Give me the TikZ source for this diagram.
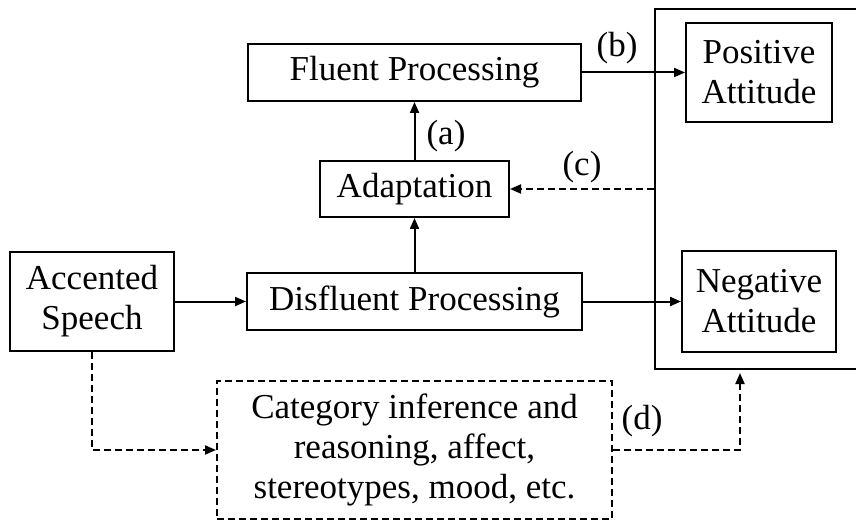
\documentclass[tikz,border=0pt]{standalone}
\usepackage{fontspec}
\setmainfont{Liberation Serif}
\usetikzlibrary{arrows.meta}
\begin{document}
\begin{tikzpicture}[x=1pt,y=-1pt,
  font=\fontsize{35}{40}\selectfont,
  box/.style={draw,line width=2pt,inner sep=0pt,align=center},
  dbox/.style={box,dash pattern=on 7pt off 4pt},
  conn/.style={line width=2pt,-{Triangle[length=11pt,width=9pt]}},
  dconn/.style={conn,dash pattern=on 7pt off 4pt},
  lbl/.style={inner sep=0pt}]
\useasboundingbox (0,0) rectangle (856,521);
\clip (0,0) rectangle (856,521);

% outer frame holding the two attitudes (runs past the right edge)
\node[box,minimum width=220pt,minimum height=360pt] (grp) at (765,189) {};

% boxes
\node[box,minimum width=333pt,minimum height=57pt] (fluent) at (414.5,72.5) {Fluent Processing};
\node[box,minimum width=189pt,minimum height=56pt] (adapt) at (414.5,189) {Adaptation};
\node[box,minimum width=335pt,minimum height=57pt] (disfl) at (414.5,301.5) {Disfluent Processing};
\node[box,minimum width=164pt,minimum height=99pt] (accent) at (92,301.5) {Accented\\Speech};
\node[box,minimum width=146pt,minimum height=99pt] (pos) at (759,72.5) {Positive\\Attitude};
\node[box,minimum width=154pt,minimum height=100pt] (neg) at (759,301.5) {Negative\\Attitude};
\node[dbox,minimum width=395pt,minimum height=138pt] (cat) at (414.5,450)
  {Category inference and\\reasoning, affect,\\stereotypes, mood, etc.};

% connectors
\draw[conn] (adapt) -- (fluent);
\draw[conn] (disfl) -- (adapt);
\draw[conn] (accent.east) -- (disfl.west);
\draw[conn] (fluent.east) -- (pos.west);
\draw[conn] (disfl.east) -- (neg.west |- disfl.east);
\coordinate (cstart) at (grp.west |- adapt.east);
\draw[dconn] (cstart) -- (adapt.east);
\draw[dconn] (accent.south) |- (cat.west);
\coordinate (dtip) at (740,373);
\draw[dconn] (cat.east) -| (dtip);

% labels
\node[lbl] (la) at (446,136) {(a)};
\node[lbl] (lb) at (617,48) {(b)};
\node[lbl] (lc) at (582,167) {(c)};
\node[lbl] (ld) at (642,421) {(d)};
\end{tikzpicture}
\end{document}
